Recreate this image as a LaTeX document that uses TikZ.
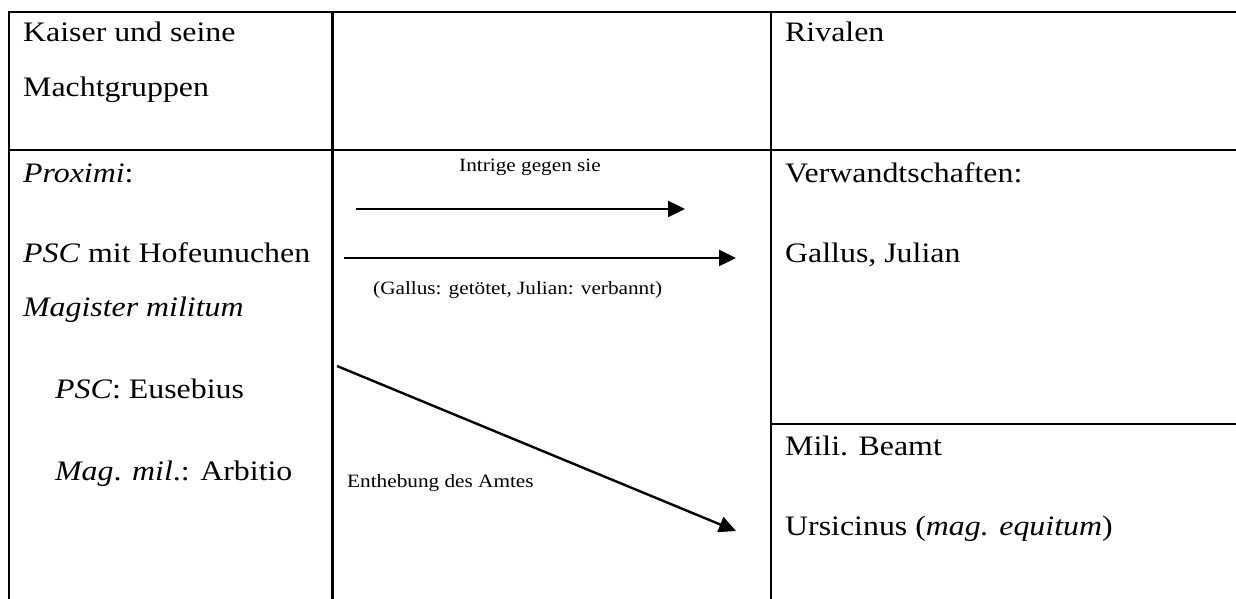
\documentclass[tikz,border=0pt]{standalone}
\usepackage{fontspec}
\setmainfont[FakeStretch=1.13]{Liberation Serif}
\usetikzlibrary{arrows.meta}
\begin{document}
\begin{tikzpicture}[x=1pt,y=-1pt,
  rule/.style={line width=2.4pt, line cap=rect},
  cell/.style={anchor=base west, inner sep=0pt, font=\fontsize{28.2}{32}\selectfont},
  note/.style={anchor=base west, inner sep=0pt, font=\fontsize{18.8}{22}\selectfont},
  link/.style={line width=2.4pt, -{Triangle[length=17pt,width=16pt]}}]
\useasboundingbox (0,0) rectangle (1236,599);

% table rules
\draw[rule] (9,12) -- (1236,12);
\draw[rule] (9,150) -- (1236,150);
\draw[rule] (771,424) -- (1236,424);
\draw[rule] (9,12) -- (9,599);
\draw[rule] (332.5,12) -- (332.5,599);
\draw[rule] (771,12) -- (771,599);

% left column: emperor and his groups
\node[cell] (kaiser) at (23,42) {Kaiser und seine};
\node[cell] (macht) at (23,97) {Machtgruppen};
\node[cell] (proximi) at (23,182) {\textit{Proximi}:};
\node[cell] (psc) at (23,262) {\textit{PSC} mit Hofeunuchen};
\node[cell] (magmil) at (23,316) {\textit{Magister militum}};
\node[cell] (euseb) at (55,398) {\textit{PSC}: Eusebius};
\node[cell] (arbit) at (55,480) {\textit{Mag}. \textit{mil}.: Arbitio};

% right column: rivals
\node[cell] (rivalen) at (785,42) {Rivalen};
\node[cell] (verw) at (785,182) {Verwandtschaften:};
\node[cell] (gallus) at (785,262) {Gallus, Julian};
\node[cell] (mili) at (785,455) {Mili. Beamt};
\node[cell] (ursic) at (785,535) {Ursicinus (\textit{mag. equitum})};

% middle column: actions
\node[note, anchor=base] (intrige) at (530,171) {Intrige gegen sie};
\node[note] (folge) at (373,294) {(Gallus: getötet, Julian: verbannt)};
\node[note] (enthebung) at (347,487) {Enthebung des Amtes};

\coordinate (a1s) at (356,209);
\coordinate (a1e) at (685,209);
\coordinate (a2s) at (344,258);
\coordinate (a2e) at (736,258);
\coordinate (a3s) at (337,366);
\coordinate (a3e) at (736,531);
\draw[link] (a1s) -- (a1e);
\draw[link] (a2s) -- (a2e);
\draw[link] (a3s) -- (a3e);
\end{tikzpicture}
\end{document}
